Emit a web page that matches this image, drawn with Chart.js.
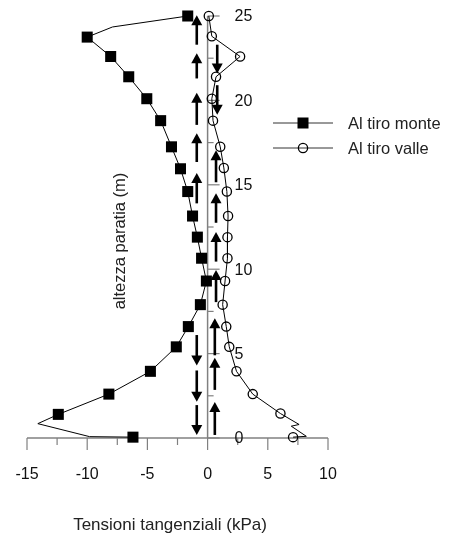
<!DOCTYPE html>
<html>
<head>
<meta charset="utf-8">
<script src="https://cdn.jsdelivr.net/npm/chart.js@4.4.1/dist/chart.umd.min.js"></script>
<style>
  html, body { margin: 0; padding: 0; background: #fff; }
  #wrap { width: 449px; height: 536px; }
</style>
</head>
<body>
<div id="wrap"><canvas id="chart" width="449" height="536"></canvas></div>
<script>
// Al tiro monte (squares): full drawn path, top to bottom
const xMonte = [-1.65, -7.9, -10.0, -8.05, -6.55, -5.05, -3.9, -3.0, -2.25, -1.65, -1.25, -0.85,
                -0.5, -0.1, -0.6, -1.6, -2.6, -4.75, -8.2, -12.4, -14.1, -9.8, -6.2];
const yMonte = [25, 24.35, 23.75, 22.6, 21.4, 20.1, 18.8, 17.25, 15.95, 14.6, 13.15, 11.9,
                10.65, 9.3, 7.9, 6.6, 5.4, 3.95, 2.6, 1.4, 0.85, 0.08, 0.05];
const monteBends = [1, 20, 21]; // path vertices without marker

// Al tiro valle (circles)
const xValle = [0.1, 0.35, 2.7, 0.7, 0.35, 0.45, 1.05, 1.35, 1.6, 1.7, 1.65, 1.65,
                1.45, 1.25, 1.55, 1.8, 2.4, 3.75, 6.05, 7.6, 6.95, 8.2, 7.1];
const yValle = [25, 23.8, 22.6, 21.4, 20.1, 18.8, 17.25, 16.0, 14.6, 13.15, 11.9, 10.65,
                9.3, 7.9, 6.6, 5.4, 3.95, 2.6, 1.45, 0.8, 0.7, 0.1, 0.05];
const valleBends = [19, 20, 21];

// arrows: x position, start height, tip height (m)
const arrowX    = [-0.9, -0.9, -0.9, -0.9, -0.9, -0.9, -0.9, -0.9,
                   0.8, 0.8, 0.7, 0.7, 0.7, 0.7, 0.6, 0.6, 0.6];
const arrowFrom = [23.3, 21.3, 18.55, 16.35, 13.9, 6.1, 4.0, 1.95,
                   23.3, 20.9, 15.15, 12.75, 10.45, 8.05, 4.9, 2.85, 0.18];
const arrowTo   = [25.05, 22.8, 20.45, 18.05, 15.7, 4.3, 2.15, 0.18,
                   21.6, 19.15, 17.05, 14.5, 12.2, 9.95, 7.1, 4.75, 2.13];

const xTickLabels = [-15, -10, -5, 0, 5, 10];
const yTickLabels = [0, 5, 10, 15, 20, 25];
const seriesNames = ['Al tiro monte', 'Al tiro valle'];
const xTitle = 'Tensioni tangenziali (kPa)';
const yTitle = 'altezza paratia (m)';

const FONT = "'Liberation Sans', Arial, sans-serif";
const AXIS = '#808080';

function toPoints(xs, ys) {
    return xs.map((x, i) => ({ x: x, y: ys[i] }));
}

function drawMarker(ctx, style, x, y) {
    ctx.save();
    ctx.strokeStyle = '#000';
    ctx.fillStyle = '#000';
    if (style === 'rect') {
        ctx.fillRect(x - 5.5, y - 5.5, 11, 11);
    } else {
        ctx.lineWidth = 1.3;
        ctx.beginPath();
        ctx.arc(x, y, 4.6, 0, Math.PI * 2);
        ctx.stroke();
    }
    ctx.restore();
}

// axes through x = 0, ticks, labels, titles and legend
const axesPlugin = {
    id: 'axesPlugin',
    beforeDatasetsDraw(chart) {
        const ctx = chart.ctx;
        const xs = chart.scales.x;
        const ys = chart.scales.y;
        const x0 = xs.getPixelForValue(0);
        const y0 = ys.getPixelForValue(0);

        ctx.save();
        ctx.strokeStyle = AXIS;
        ctx.lineWidth = 1.5;

        // vertical axis
        ctx.beginPath();
        ctx.moveTo(x0, ys.getPixelForValue(0));
        ctx.lineTo(x0, ys.getPixelForValue(25));
        ctx.stroke();
        ctx.lineWidth = 1.2;
        for (let v = 0; v <= 25; v += 2.5) {
            const py = ys.getPixelForValue(v);
            const len = yTickLabels.includes(v) ? 12 : 6;
            ctx.beginPath();
            ctx.moveTo(x0, py);
            ctx.lineTo(x0 + len, py);
            ctx.stroke();
        }

        // horizontal axis
        ctx.lineWidth = 1.5;
        ctx.beginPath();
        ctx.moveTo(xs.getPixelForValue(-15), y0);
        ctx.lineTo(xs.getPixelForValue(10), y0);
        ctx.stroke();
        ctx.lineWidth = 1.2;
        for (let v = -15; v <= 10; v += 2.5) {
            const px = xs.getPixelForValue(v);
            const len = xTickLabels.includes(v) ? 12 : 7;
            ctx.beginPath();
            ctx.moveTo(px, y0);
            ctx.lineTo(px, y0 + len);
            ctx.stroke();
        }

        // tick labels
        ctx.fillStyle = '#111';
        ctx.font = '16px ' + FONT;
        ctx.textBaseline = 'middle';
        ctx.textAlign = 'left';
        yTickLabels.forEach(v => {
            ctx.fillText(String(v), x0 + 27, ys.getPixelForValue(v) + 1);
        });
        ctx.textAlign = 'center';
        xTickLabels.forEach(v => {
            ctx.fillText(String(v), xs.getPixelForValue(v), y0 + 37);
        });

        // titles
        ctx.fillStyle = '#222';
        ctx.font = '17px ' + FONT;
        ctx.fillText(xTitle, 170, 525);
        ctx.save();
        ctx.translate(120, 241);
        ctx.rotate(-Math.PI / 2);
        ctx.font = '16.5px ' + FONT;
        ctx.fillText(yTitle, 0, 0);
        ctx.restore();

        // legend
        const rows = [123, 148];
        const styles = ['rect', 'circle'];
        ctx.font = '16.5px ' + FONT;
        ctx.textAlign = 'left';
        rows.forEach((ry, i) => {
            ctx.strokeStyle = '#333';
            ctx.lineWidth = 1;
            ctx.beginPath();
            ctx.moveTo(273, ry);
            ctx.lineTo(333, ry);
            ctx.stroke();
            drawMarker(ctx, styles[i], 303, ry);
            ctx.fillStyle = '#222';
            ctx.fillText(seriesNames[i], 348, ry + 1);
        });
        ctx.restore();
    },
    afterDatasetsDraw(chart) {
        const ctx = chart.ctx;
        const xs = chart.scales.x;
        const ys = chart.scales.y;
        ctx.save();
        ctx.strokeStyle = '#000';
        ctx.fillStyle = '#000';
        ctx.lineWidth = 2.6;
        arrowX.forEach((ax, i) => {
            const px = xs.getPixelForValue(ax);
            const pFrom = ys.getPixelForValue(arrowFrom[i]);
            const pTo = ys.getPixelForValue(arrowTo[i]);
            const dir = pTo < pFrom ? -1 : 1;
            const headLen = 10;
            ctx.beginPath();
            ctx.moveTo(px, pFrom);
            ctx.lineTo(px, pTo - dir * headLen + dir * 1);
            ctx.stroke();
            ctx.beginPath();
            ctx.moveTo(px, pTo);
            ctx.lineTo(px - 5.5, pTo - dir * headLen);
            ctx.lineTo(px + 5.5, pTo - dir * headLen);
            ctx.closePath();
            ctx.fill();
        });
        ctx.restore();
    }
};

new Chart(document.getElementById('chart'), {
    type: 'scatter',
    data: {
        datasets: [
            {
                label: seriesNames[0],
                data: toPoints(xMonte, yMonte),
                showLine: true,
                borderColor: '#000',
                borderWidth: 1,
                backgroundColor: '#000',
                pointStyle: 'rect',
                pointRadius: xMonte.map((v, i) => monteBends.includes(i) ? 0 : 7.8),
                pointBorderWidth: 0,
                pointBackgroundColor: '#000',
                clip: false
            },
            {
                label: seriesNames[1],
                data: toPoints(xValle, yValle),
                showLine: true,
                borderColor: '#000',
                borderWidth: 1,
                backgroundColor: 'rgba(0,0,0,0)',
                pointStyle: 'circle',
                pointRadius: xValle.map((v, i) => valleBends.includes(i) ? 0 : 4.6),
                pointBorderWidth: 1.3,
                pointBorderColor: '#000',
                pointBackgroundColor: 'rgba(0,0,0,0)',
                clip: false
            }
        ]
    },
    options: {
        responsive: false,
        animation: false,
        devicePixelRatio: 1,
        layout: { padding: { left: 27, right: 121, top: 16, bottom: 98 } },
        scales: {
            x: { type: 'linear', min: -15, max: 10, display: false },
            y: { type: 'linear', min: 0, max: 25, display: false }
        },
        plugins: {
            legend: { display: false },
            tooltip: { enabled: false }
        }
    },
    plugins: [axesPlugin]
});
</script>
</body>
</html>
